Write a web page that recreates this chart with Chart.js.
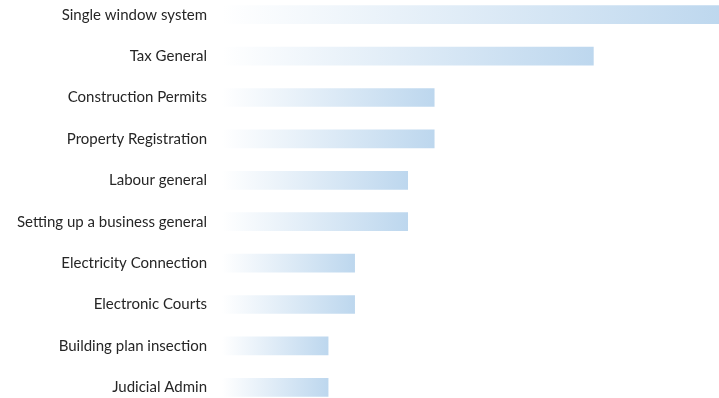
<!DOCTYPE html>
<html>
<head>
<meta charset="utf-8">
<script src="https://cdn.jsdelivr.net/npm/chart.js@4/dist/chart.umd.min.js"></script>
<style>
    html, body { margin: 0; padding: 0; background: #ffffff; overflow: hidden; }
    body { width: 719px; height: 398px; position: relative; }
    #myChart { position: absolute; left: 0; top: -6px; }
</style>
</head>
<body>
<canvas id="myChart" width="726" height="414"></canvas>
<script>
// Categories (top to bottom) and counts
const categories = [
    'Single window system',
    'Tax General',
    'Construction Permits',
    'Property Registration',
    'Labour general',
    'Setting up a business general',
    'Electricity Connection',
    'Electronic Courts',
    'Building plan insection',
    'Judicial Admin'
];
const counts = [19, 14, 8, 8, 7, 7, 5, 5, 4, 4];

const barStart = '#ffffff';
const barEnd = '#bdd7ee';

document.addEventListener("DOMContentLoaded", function() {
    var ChartCanvas = document.getElementById('myChart');

    // each bar fades from white at its base to blue at its own tip
    function barGradient(context) {
        const chart = context.chart;
        const area = chart.chartArea;
        if (!area || context.dataIndex === undefined) return barEnd;
        const xScale = chart.scales.x;
        const x0 = xScale.getPixelForValue(0);
        const x1 = xScale.getPixelForValue(counts[context.dataIndex]);
        const g = chart.ctx.createLinearGradient(x0, 0, x1, 0);
        g.addColorStop(0, barStart);
        g.addColorStop(1, barEnd);
        return g;
    }

    new Chart(ChartCanvas, {
        type: 'bar',
        data: {
            labels: categories,
            datasets: [{
                data: counts,
                backgroundColor: barGradient,
                borderWidth: 0,
                barThickness: 18
            }]
        },
        options: {
            indexAxis: 'y',
            responsive: false,
            animation: false,
            layout: { padding: 0 },
            plugins: {
                legend: { display: false },
                tooltip: { enabled: false }
            },
            scales: {
                x: {
                    display: false,
                    min: 0,
                    max: 19
                },
                y: {
                    grid: { display: false, drawTicks: false },
                    border: { display: false },
                    ticks: {
                        color: '#262626',
                        padding: 15,
                        font: { family: 'Lato', size: 15 }
                    },
                    afterFit: function(scale) {
                        scale.width = 222; // fixed label column
                        // categories are offset, so no extra room is needed above/below
                        scale.paddingTop = 0;
                        scale.paddingBottom = 0;
                    }
                }
            }
        }
    });
});
</script>
</body>
</html>
